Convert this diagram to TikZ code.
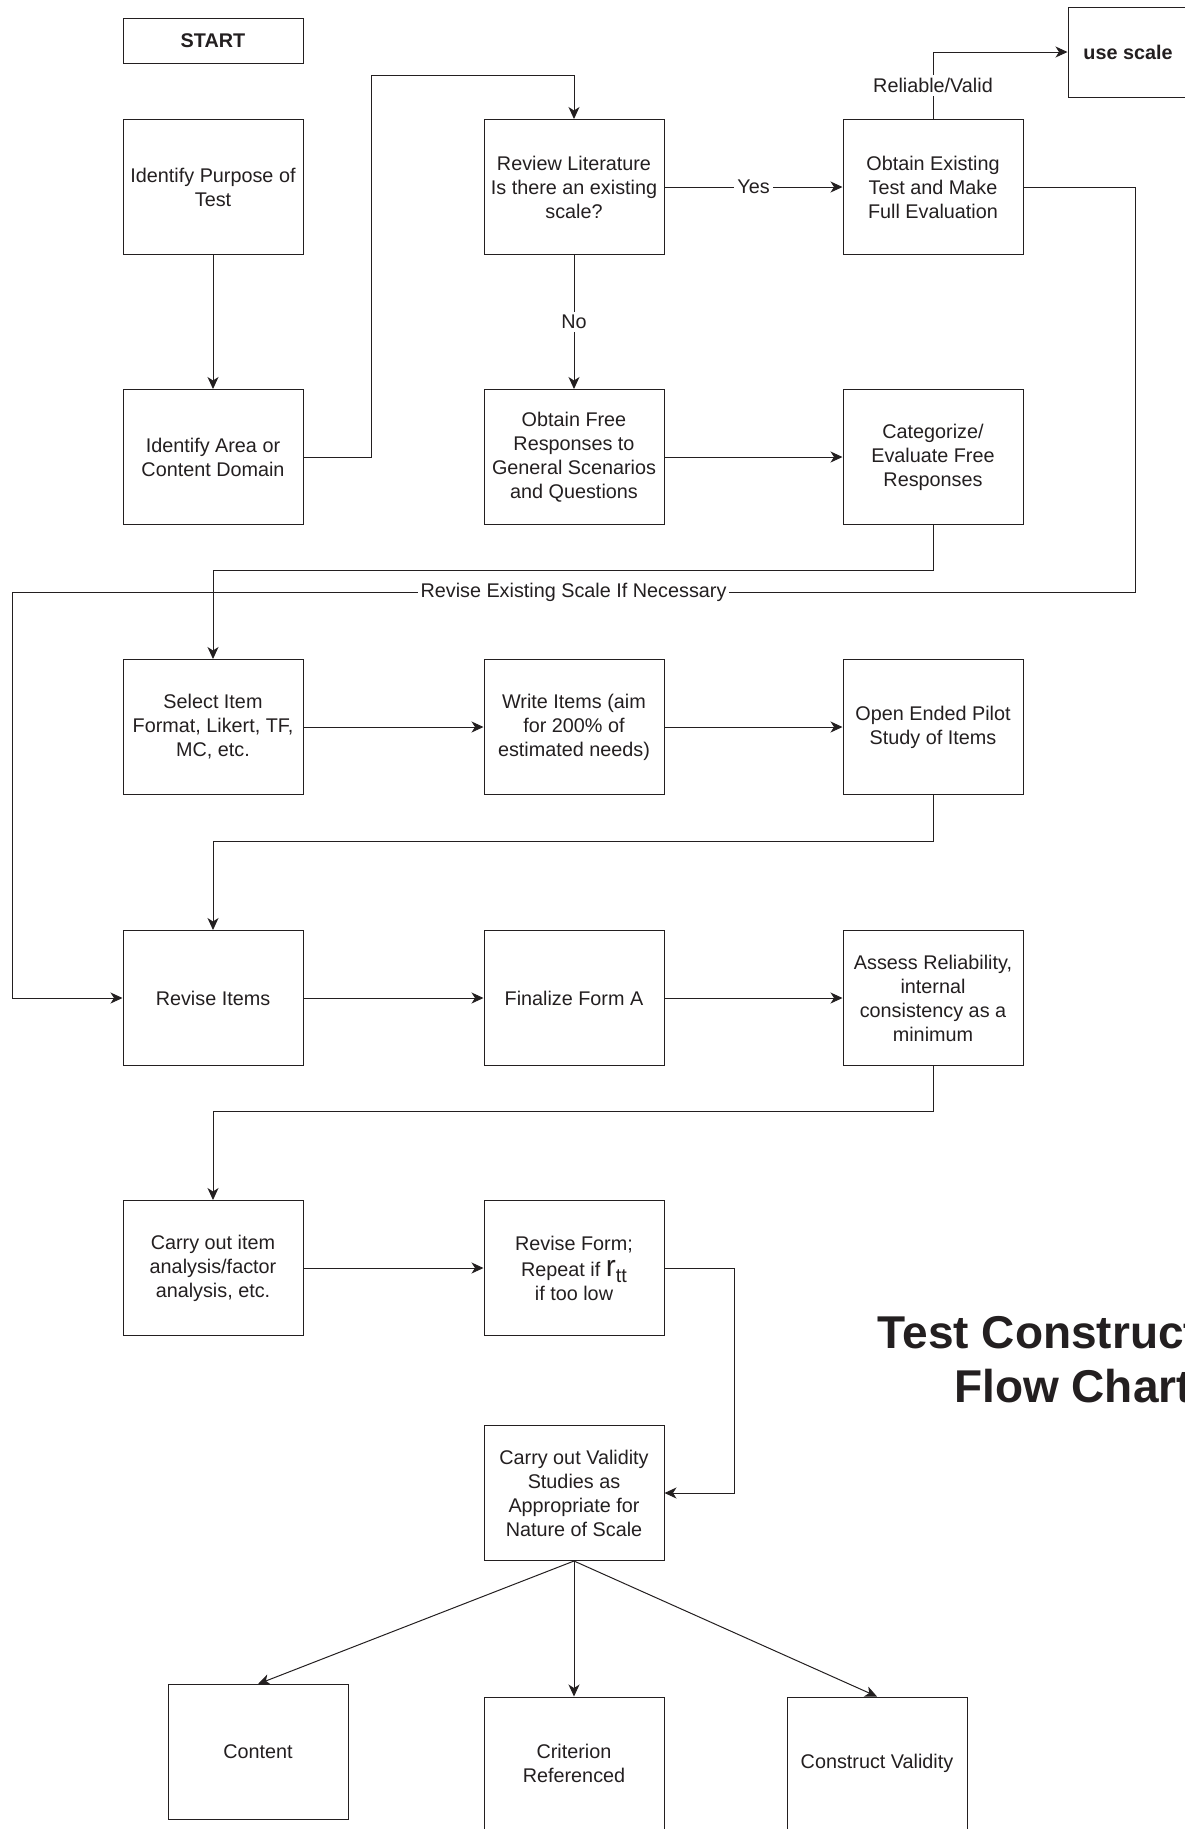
\documentclass[tikz,border=0pt]{standalone}
\usepackage{fontspec}
\setmainfont{Liberation Sans}
\usetikzlibrary{arrows.meta}
\definecolor{ink}{RGB}{35,31,32}
\begin{document}
\begin{tikzpicture}[x=1pt,y=-1pt,
  box/.style={draw=ink, line width=1pt, minimum width=180pt, minimum height=135pt,
    align=center, inner sep=2pt, text=ink, font=\fontsize{19.8}{24}\selectfont},
  smallbox/.style={box, minimum height=45pt, font=\fontsize{19.8}{24}\selectfont\bfseries},
  link/.style={draw=ink, line width=1pt, -{Stealth[length=12pt,width=11pt,inset=3.5pt]}},
  lbl/.style={fill=white, text=ink, inner sep=3pt, font=\fontsize{19.8}{24}\selectfont},
  titletext/.style={text=ink, inner sep=0pt, anchor=base, font=\fontsize{46}{54}\selectfont\bfseries}]
\useasboundingbox (0,0) rectangle (1185,1829);
\clip (0,0) rectangle (1185,1829);

% boxes
\node[smallbox] (start) at (213,40.5) {START};
\node[smallbox, minimum width=120pt, minimum height=90pt] (usescale) at (1128,52) {use scale};

\node[box] (purpose) at (213,187) {Identify Purpose of\\Test};
\node[box] (review) at (574,187) {Review Literature\\Is there an existing\\scale?};
\node[box] (exist) at (933,187) {Obtain Existing\\Test and Make\\Full Evaluation};

\node[box] (area) at (213,457) {Identify Area or\\Content Domain};
\node[box] (free) at (574,457) {Obtain Free\\Responses to\\General Scenarios\\and Questions};
\node[box] (categ) at (933,457) {Categorize/\\Evaluate Free\\Responses};

\node[box] (select) at (213,727) {Select Item\\Format, Likert, TF,\\MC, etc.};
\node[box] (write) at (574,727) {Write Items (aim\\for 200\% of\\estimated needs)};
\node[box] (pilot) at (933,727) {Open Ended Pilot\\Study of Items};

\node[box] (reviseitems) at (213,998) {Revise Items};
\node[box] (finalize) at (574,998) {Finalize Form A};
\node[box] (assess) at (933,998) {Assess Reliability,\\internal\\consistency as a\\minimum};

\node[box] (carry) at (213,1268) {Carry out item\\analysis/factor\\analysis, etc.};
\node[box] (reviseform) at (574,1268) {Revise Form;\\[2pt]Repeat if {\fontsize{30}{24}\selectfont r}\raisebox{-6pt}{tt}\\if too low};

\node[box] (validity) at (574,1493) {Carry out Validity\\Studies as\\Appropriate for\\Nature of Scale};

\node[box] (content) at (258,1752) {Content};
\node[box, minimum height=133pt] (criterion) at (574,1763.5) {Criterion\\Referenced};
\node[box, minimum height=133pt] (construct) at (877,1763.5) {Construct Validity};

% title, running off the right edge of the page
\node[titletext] (title1) at (1073,1348) {Test Construction};
\node[titletext] (title2) at (1073,1402) {Flow Chart};

% connectors
\draw[link] (purpose) -- (area);
\draw[link] (area.east) -| (371,75) -| (review.north);
\draw[link] (review) -- node[lbl] {Yes} (exist);
\draw[link] (review) -- node[lbl] {No} (free);
\draw[link] (exist.north) |- node[lbl, pos=0.25] {Reliable/Valid} (usescale.west);
\draw[link] (free) -- (categ);
\draw[link] (exist.east) -| (1135,592) -- node[lbl] {Revise Existing Scale If Necessary} (12,592) |- (reviseitems.west);
\draw[link] (categ.south) -- ++(0,45) -| (select.north);
\draw[link] (select) -- (write);
\draw[link] (write) -- (pilot);
\draw[link] (pilot.south) -- ++(0,46) -| (reviseitems.north);
\draw[link] (reviseitems) -- (finalize);
\draw[link] (finalize) -- (assess);
\draw[link] (assess.south) -- ++(0,45) -| (carry.north);
\draw[link] (carry) -- (reviseform);
\draw[link] (reviseform.east) -- ++(70,0) |- (validity.east);
\draw[link] (validity.south) -- (content.north);
\draw[link] (validity.south) -- (criterion.north);
\draw[link] (validity.south) -- (construct.north);
\end{tikzpicture}
\end{document}
